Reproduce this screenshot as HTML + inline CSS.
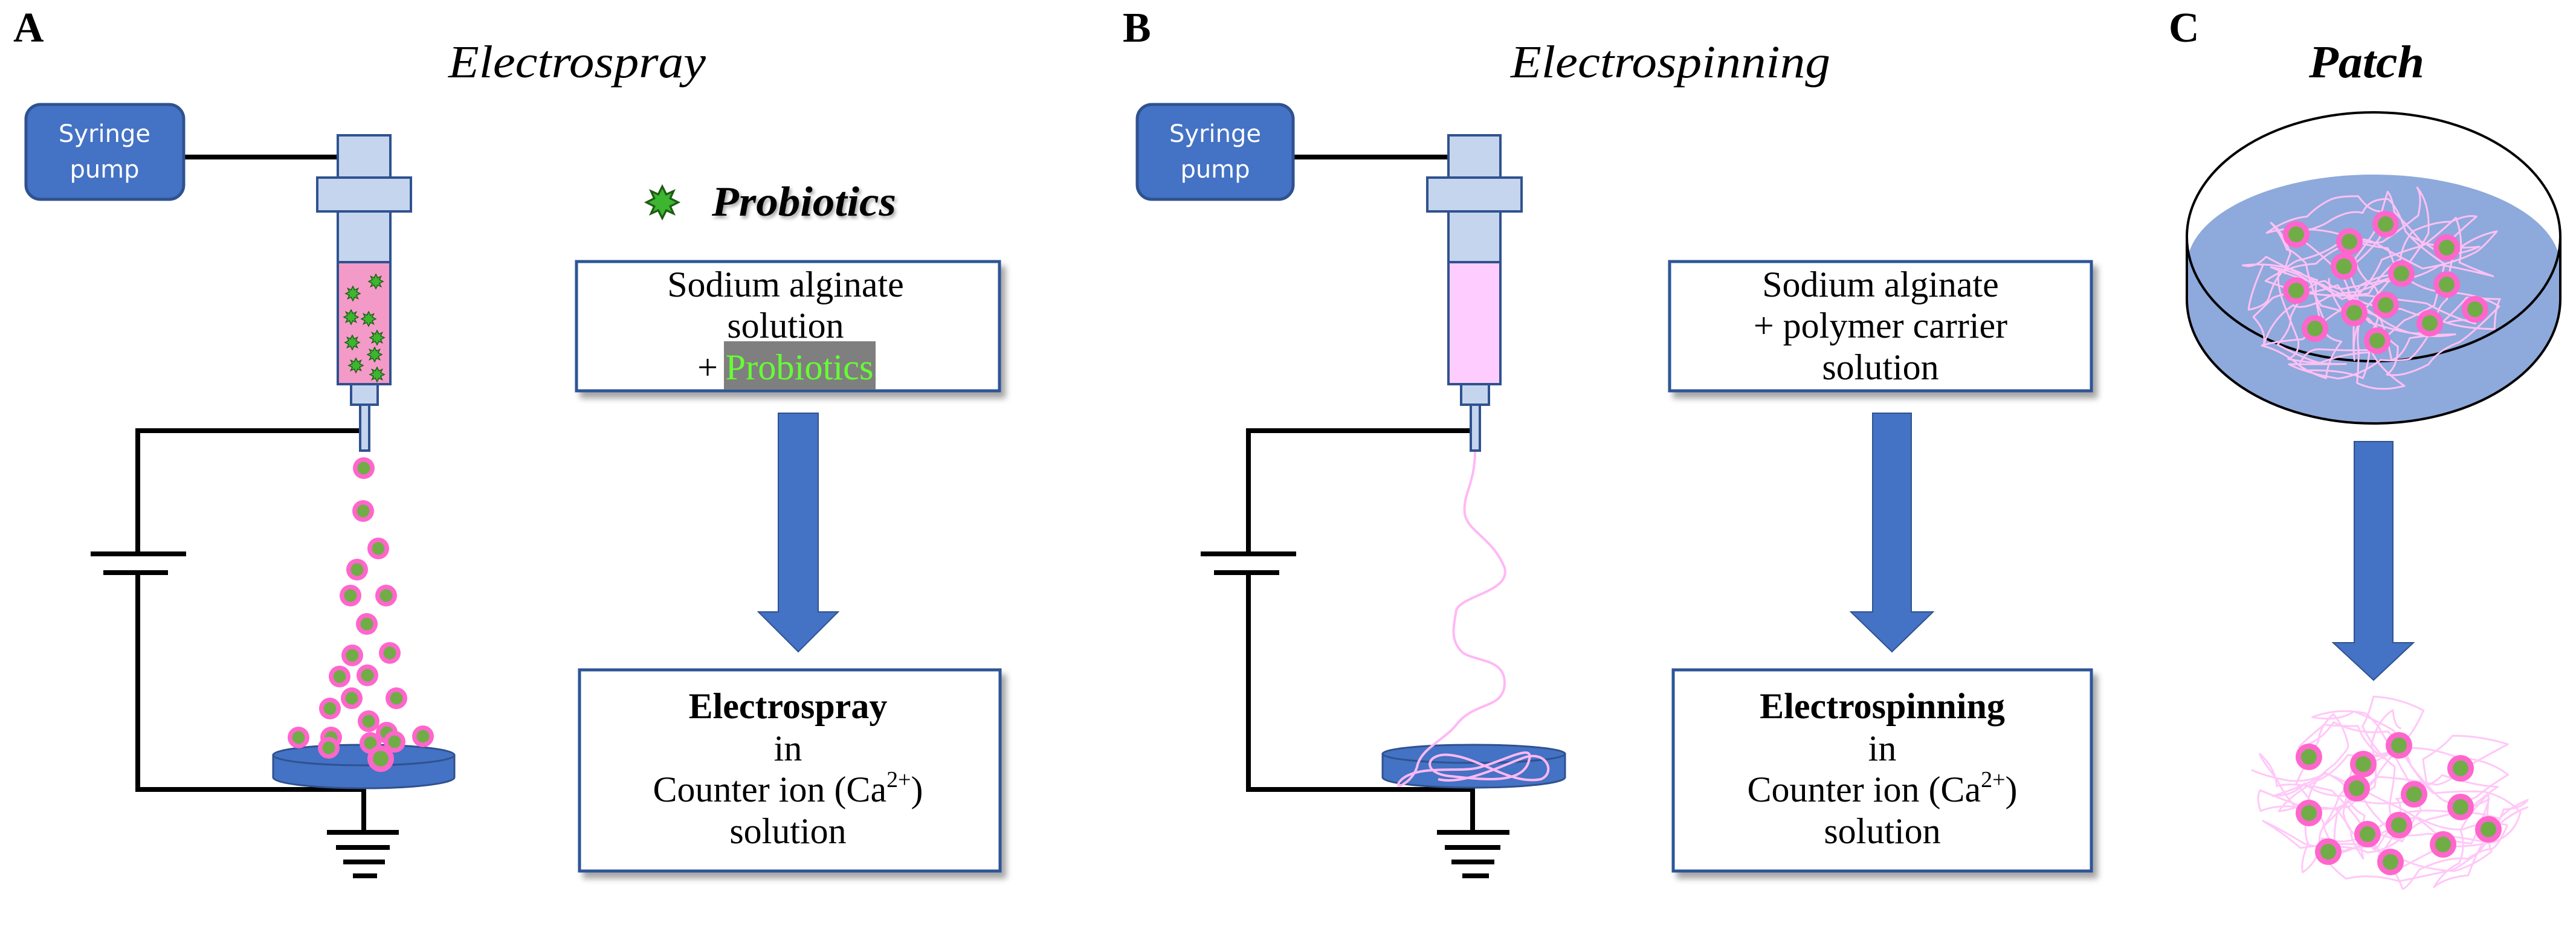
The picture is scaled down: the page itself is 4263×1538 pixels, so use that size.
<!DOCTYPE html>
<html><head><meta charset="utf-8"><style>
html,body{margin:0;padding:0;background:#fff;}
svg{display:block;}
</style></head><body>
<svg id="s" width="4263" height="1538" viewBox="0 0 4263 1538" xmlns="http://www.w3.org/2000/svg">
<defs>
<filter id="sh" x="-5%" y="-5%" width="115%" height="120%"><feDropShadow dx="8" dy="10" stdDeviation="5" flood-color="#000" flood-opacity="0.35"/></filter>
<filter id="tsh" x="-5%" y="-20%" width="115%" height="150%"><feDropShadow dx="3" dy="4" stdDeviation="3" flood-color="#000" flood-opacity="0.35"/></filter>
<g id="drop"><circle r="18" fill="#FF66CC"/><circle r="10.5" fill="#70AD47"/></g>
<g id="pdrop"><circle r="22" fill="#FF66CC"/><circle r="13" fill="#70AD47"/></g>
<polygon id="star" points="0,-12 3,-6 8.5,-8.5 6,-3 12,0 6,3 8.5,8.5 3,6 0,12 -3,6 -8.5,8.5 -6,3 -12,0 -6,-3 -8.5,-8.5 -3,-6" fill="#3CB531" stroke="#1E5C14" stroke-width="1.5"/>
</defs>
<g font-family="'Liberation Serif', serif">
<text x="22" y="69" font-size="70" font-weight="bold">A</text>
<text x="1858" y="69" font-size="70" font-weight="bold">B</text>
<text x="3589" y="69" font-size="70" font-weight="bold">C</text>
<text x="742" y="128" font-size="76" font-style="italic" textLength="426" lengthAdjust="spacingAndGlyphs">Electrospray</text>
<text x="2500" y="128" font-size="76" font-style="italic" textLength="529" lengthAdjust="spacingAndGlyphs">Electrospinning</text>
<text x="3821" y="128" font-size="76" font-style="italic" font-weight="bold" textLength="191" lengthAdjust="spacingAndGlyphs">Patch</text>
</g>

<!-- PANEL A -->
<g stroke="#000" stroke-width="8" fill="none">
<line x1="304" y1="260" x2="559" y2="260"/>
<polyline points="595,713 228,713 228,917"/>
<line x1="150" y1="917" x2="308" y2="917"/>
<line x1="171" y1="948" x2="278" y2="948"/>
<polyline points="228,948 228,1307 602,1307 602,1378"/>
<line x1="541" y1="1378" x2="660" y2="1378"/>
<line x1="556" y1="1403" x2="645" y2="1403"/>
<line x1="568" y1="1427" x2="637" y2="1427"/>
<line x1="584" y1="1450" x2="624" y2="1450"/>
</g>
<rect x="43" y="173" width="261" height="157" rx="24" fill="#4472C4" stroke="#2F528F" stroke-width="5"/>
<text x="173" y="235" font-family="'DejaVu Sans','Liberation Sans',sans-serif" font-size="40" fill="#fff" text-anchor="middle">Syringe</text>
<text x="173" y="294" font-family="'DejaVu Sans','Liberation Sans',sans-serif" font-size="40" fill="#fff" text-anchor="middle">pump</text>
<g stroke="#2F528F" stroke-width="4">
<rect x="559" y="224" width="87" height="70" fill="#C5D5EE"/>
<rect x="525" y="294" width="155" height="56" fill="#C5D5EE"/>
<rect x="559" y="350" width="87" height="84" fill="#C5D5EE"/>
<rect x="559" y="434" width="87" height="202" fill="#F49AC8"/>
<rect x="581" y="636" width="44" height="34" fill="#C5D5EE"/>
<rect x="596" y="670" width="15" height="76" fill="#C5D5EE"/>
</g>
<g>
<use href="#star" x="622" y="466"/><use href="#star" x="584" y="486"/><use href="#star" x="581" y="525"/>
<use href="#star" x="610" y="528"/><use href="#star" x="583" y="567"/><use href="#star" x="624" y="559"/>
<use href="#star" x="620" y="587"/><use href="#star" x="589" y="605"/><use href="#star" x="624" y="620"/>
</g>
<g fill="#4472C4" stroke="#2F528F" stroke-width="3">
<path d="M452,1250 L452,1287 A150,18 0 0 0 752,1287 L752,1250 Z"/>
<ellipse cx="602" cy="1250" rx="150" ry="17"/>
</g>
<g>
<use href="#drop" x="602" y="775"/><use href="#drop" x="601" y="846"/><use href="#drop" x="626" y="908"/>
<use href="#drop" x="591" y="943"/><use href="#drop" x="580" y="986"/><use href="#drop" x="639" y="986"/>
<use href="#drop" x="607" y="1033"/><use href="#drop" x="583" y="1085"/><use href="#drop" x="645" y="1081"/>
<use href="#drop" x="562" y="1120"/><use href="#drop" x="608" y="1118"/><use href="#drop" x="582" y="1156"/>
<use href="#drop" x="656" y="1156"/><use href="#drop" x="546" y="1173"/><use href="#drop" x="610" y="1194"/>
<use href="#drop" x="640" y="1213"/><use href="#drop" x="494" y="1221"/><use href="#drop" x="548" y="1221"/>
<use href="#drop" x="544" y="1238"/><use href="#drop" x="613" y="1230"/><use href="#drop" x="653" y="1228"/>
<use href="#drop" x="700" y="1219"/><use href="#pdrop" x="630" y="1256"/>
</g>
<g transform="translate(1096,335) scale(2.2)"><use href="#star" fill="#4CC23A"/></g>
<text x="1178" y="357" font-family="'Liberation Serif',serif" font-size="70" font-style="italic" font-weight="bold" textLength="305" lengthAdjust="spacingAndGlyphs" filter="url(#tsh)">Probiotics</text>
<rect x="954" y="433" width="700" height="214" fill="#fff" stroke="#2F5597" stroke-width="5" filter="url(#sh)"/>
<rect x="1198" y="565" width="251" height="80" fill="#7F7F7F"/>
<g font-family="'Liberation Serif',serif" font-size="60" text-anchor="middle">
<text x="1300" y="491">Sodium alginate</text>
<text x="1300" y="559">solution</text>
<text x="1171" y="628">+</text>
<text x="1323" y="628" fill="#66FF33" textLength="245" lengthAdjust="spacingAndGlyphs">Probiotics</text>
</g>
<polygon points="1288,684 1354,684 1354,1013 1387,1013 1321,1079 1255,1013 1288,1013" fill="#4472C4" stroke="#2F528F" stroke-width="2"/>
<rect x="959" y="1109" width="696" height="333" fill="#fff" stroke="#2F5597" stroke-width="5" filter="url(#sh)"/>
<g font-family="'Liberation Serif',serif" font-size="60" text-anchor="middle">
<text x="1304" y="1189" font-weight="bold">Electrospray</text>
<text x="1304" y="1259">in</text>
<text x="1304" y="1327">Counter ion (Ca<tspan font-size="38" dy="-24">2+</tspan><tspan dy="24">)</tspan></text>
<text x="1304" y="1396">solution</text>
</g>

<!-- PANEL B -->
<g stroke="#000" stroke-width="8" fill="none">
<line x1="2140" y1="260" x2="2397" y2="260"/>
<polyline points="2433,713 2066,713 2066,917"/>
<line x1="1987" y1="917" x2="2145" y2="917"/>
<line x1="2009" y1="948" x2="2117" y2="948"/>
<polyline points="2066,948 2066,1307 2437,1307 2437,1378"/>
<line x1="2378" y1="1378" x2="2498" y2="1378"/>
<line x1="2391" y1="1403" x2="2483" y2="1403"/>
<line x1="2402" y1="1427" x2="2473" y2="1427"/>
<line x1="2420" y1="1450" x2="2464" y2="1450"/>
</g>
<rect x="1882" y="173" width="258" height="157" rx="24" fill="#4472C4" stroke="#2F528F" stroke-width="5"/>
<text x="2011" y="235" font-family="'DejaVu Sans','Liberation Sans',sans-serif" font-size="40" fill="#fff" text-anchor="middle">Syringe</text>
<text x="2011" y="294" font-family="'DejaVu Sans','Liberation Sans',sans-serif" font-size="40" fill="#fff" text-anchor="middle">pump</text>
<g stroke="#2F528F" stroke-width="4">
<rect x="2397" y="224" width="86" height="70" fill="#C5D5EE"/>
<rect x="2362" y="294" width="156" height="56" fill="#C5D5EE"/>
<rect x="2397" y="350" width="86" height="84" fill="#C5D5EE"/>
<rect x="2397" y="434" width="86" height="202" fill="#FFCCFF"/>
<rect x="2418" y="636" width="46" height="34" fill="#C5D5EE"/>
<rect x="2434" y="670" width="15" height="76" fill="#C5D5EE"/>
</g>
<g fill="#4472C4" stroke="#2F528F" stroke-width="3">
<path d="M2288,1248 L2288,1287 A151,17 0 0 0 2590,1287 L2590,1248 Z"/>
<ellipse cx="2439" cy="1248" rx="151" ry="15"/>
</g>
<path d="M2441,748 C2441,800 2420,820 2424,850 C2428,880 2470,890 2490,940 C2500,980 2420,985 2410,1010 C2405,1040 2400,1060 2420,1080 C2440,1095 2490,1090 2490,1130 C2490,1175 2440,1160 2410,1200 C2390,1225 2350,1240 2345,1270 C2335,1300 2300,1310 2320,1290 C2350,1265 2420,1280 2450,1270 C2500,1255 2540,1230 2530,1260 C2520,1300 2450,1290 2400,1285 C2350,1280 2360,1245 2400,1250 C2450,1255 2500,1300 2550,1290 C2575,1280 2560,1240 2520,1255 C2480,1270 2420,1300 2380,1290" fill="none" stroke="#FFB8F5" stroke-width="4"/>
<rect x="2763" y="433" width="698" height="214" fill="#fff" stroke="#2F5597" stroke-width="5" filter="url(#sh)"/>
<g font-family="'Liberation Serif',serif" font-size="60" text-anchor="middle">
<text x="3112" y="491">Sodium alginate</text>
<text x="3112" y="559">+ polymer carrier</text>
<text x="3112" y="628">solution</text>
</g>
<polygon points="3099,684 3163,684 3163,1013 3199,1013 3131,1079 3063,1013 3099,1013" fill="#4472C4" stroke="#2F528F" stroke-width="2"/>
<rect x="2769" y="1109" width="692" height="333" fill="#fff" stroke="#2F5597" stroke-width="5" filter="url(#sh)"/>
<g font-family="'Liberation Serif',serif" font-size="60" text-anchor="middle">
<text x="3115" y="1189" font-weight="bold">Electrospinning</text>
<text x="3115" y="1259">in</text>
<text x="3115" y="1327">Counter ion (Ca<tspan font-size="38" dy="-24">2+</tspan><tspan dy="24">)</tspan></text>
<text x="3115" y="1396">solution</text>
</g>

<!-- PANEL C -->
<g>
<path d="M3619,441 A309,152 0 0 1 4237,441 L4237,495 A309,206 0 0 1 3619,495 Z" fill="#8EA9DB"/>
<ellipse cx="3928" cy="392" rx="309" ry="206" fill="none" stroke="#000" stroke-width="4"/>
<path d="M3619,392 L3619,495 A309,206 0 0 0 4237,495 L4237,392" fill="none" stroke="#000" stroke-width="4"/>
</g>
<g id="tang1" fill="none" stroke="#FFC0F5" stroke-width="3"></g>
<g id="tang2" fill="none" stroke="#FFC8F7" stroke-width="3"></g>
<g>
<use href="#pdrop" x="3800" y="388"/><use href="#pdrop" x="3888" y="400"/><use href="#pdrop" x="3948" y="371"/>
<use href="#pdrop" x="4049" y="410"/><use href="#pdrop" x="3879" y="441"/><use href="#pdrop" x="3974" y="453"/>
<use href="#pdrop" x="4049" y="471"/><use href="#pdrop" x="3800" y="481"/><use href="#pdrop" x="3896" y="518"/>
<use href="#pdrop" x="3948" y="505"/><use href="#pdrop" x="4096" y="512"/><use href="#pdrop" x="3831" y="544"/>
<use href="#pdrop" x="4021" y="535"/><use href="#pdrop" x="3934" y="564"/>
</g>
<polygon points="3896,731 3960,731 3960,1064 3994,1064 3928,1126 3861,1064 3896,1064" fill="#4472C4" stroke="#2F528F" stroke-width="2"/>
<g>
<use href="#pdrop" x="3821" y="1253"/><use href="#pdrop" x="3911" y="1265"/><use href="#pdrop" x="3970" y="1234"/>
<use href="#pdrop" x="4072" y="1272"/><use href="#pdrop" x="3900" y="1305"/><use href="#pdrop" x="3995" y="1315"/>
<use href="#pdrop" x="4072" y="1336"/><use href="#pdrop" x="3821" y="1346"/><use href="#pdrop" x="3918" y="1381"/>
<use href="#pdrop" x="3970" y="1366"/><use href="#pdrop" x="4118" y="1373"/><use href="#pdrop" x="3853" y="1410"/>
<use href="#pdrop" x="4043" y="1398"/><use href="#pdrop" x="3956" y="1427"/>
</g>
</svg>
<script>
(function(){
 var seed=987;function r(){seed=(seed*1103515245+12345)%2147483648;return seed/2147483648;}
 function tangle(id,cx,cy,rx,ry,n,paths){
  var g=document.getElementById(id);var ns="http://www.w3.org/2000/svg";
  for(var k=0;k<paths;k++){
   var x=cx+(r()-0.5)*rx,y=cy+(r()-0.5)*ry,ang=r()*6.28;
   var d="M"+x.toFixed(1)+","+y.toFixed(1);
   for(var i=0;i<n;i++){
    ang+= (r()-0.5)*2.2;
    var step=40+r()*60;
    var nx=x+Math.cos(ang)*step, ny=y+Math.sin(ang)*step*0.8;
    var dx=(nx-cx)/rx, dy=(ny-cy)/ry;
    if(dx*dx+dy*dy>1){ang+=Math.PI*0.8;nx=x+Math.cos(ang)*step;ny=y+Math.sin(ang)*step*0.8;
      dx=(nx-cx)/rx;dy=(ny-cy)/ry;if(dx*dx+dy*dy>1){nx=cx+(nx-cx)*0.8;ny=cy+(ny-cy)*0.8;}}
    var qx=(x+nx)/2+(r()-0.5)*30,qy=(y+ny)/2+(r()-0.5)*30;
    d+=" Q"+qx.toFixed(1)+","+qy.toFixed(1)+" "+nx.toFixed(1)+","+ny.toFixed(1);
    x=nx;y=ny;
   }
   var p=document.createElementNS(ns,"path");p.setAttribute("d",d);p.setAttribute("stroke-linejoin","round");g.appendChild(p);
  }
 }
 tangle("tang1",3930,465,240,180,30,5);
 tangle("tang2",3952,1315,235,165,30,5);
})();
</script>
</body></html>
